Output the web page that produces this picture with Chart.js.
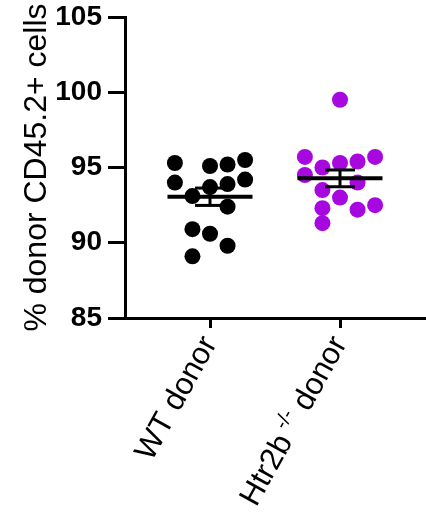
<!DOCTYPE html>
<html>
<head>
    <title>Donor CD45.2+ cells</title>
    <style>
        body { margin: 0; background: #fff; }
        canvas { display: block; }
    </style>
</head>
<body>
    <canvas id="dotChart" width="426" height="519"></canvas>

    <script src="https://cdn.jsdelivr.net/npm/chart.js"></script>
    <script>
        // groups on the x axis
        const categories = ['WT donor', 'Htr2b -/- donor'];
        const groupColors = ['#000000', '#a808e0'];

        // % donor CD45.2+ cells, one value per mouse
        const wtValues = [95.3, 95.1, 95.2, 95.5, 94.0, 93.7, 93.9, 94.2, 93.1, 92.4, 90.9, 90.6, 89.8, 89.1];
        const htrValues = [99.5, 95.7, 95.0, 95.3, 95.4, 95.7, 94.5, 93.5, 94.0, 93.0, 92.3, 92.2, 92.5, 91.3];

        // scatter column of each dot (0 = centre of group)
        const wtCols = [-2, 0, 1, 2, -2, 0, 1, 2, -1, 1, -1, 0, 1, -1];
        const htrCols = [0, -2, -1, 0, 1, 2, -2, -1, 1, 0, -1, 1, 2, -1];

        const yTicks = [85, 90, 95, 100, 105];

        const groups = [
            { values: wtValues, cols: wtCols },
            { values: htrValues, cols: htrCols }
        ];

        const FONT = "'Liberation Sans', Arial, sans-serif";
        const COL_STEP = 0.135;   // width of one scatter column, in x units
        const MEAN_HALF = 0.327;
        const CAP_HALF = 0.115;

        function mean(arr) {
            return arr.reduce((a, b) => a + b, 0) / arr.length;
        }
        function sem(arr) {
            const m = mean(arr);
            const v = arr.reduce((a, b) => a + (b - m) * (b - m), 0) / (arr.length - 1);
            return Math.sqrt(v / arr.length);
        }

        const datasets = [];
        groups.forEach((g, i) => {
            const cx = i + 1;
            const m = mean(g.values);
            const e = sem(g.values);
            const line = (pts, w) => ({
                type: 'line', data: pts, borderColor: '#000', borderWidth: w,
                pointRadius: 0, fill: false, order: 0, clip: false
            });
            datasets.push(line([{ x: cx - MEAN_HALF, y: m }, { x: cx + MEAN_HALF, y: m }], 4));
            datasets.push(line([{ x: cx, y: m - e }, { x: cx, y: m + e }], 3));
            datasets.push(line([{ x: cx - CAP_HALF, y: m + e }, { x: cx + CAP_HALF, y: m + e }], 3));
            datasets.push(line([{ x: cx - CAP_HALF, y: m - e }, { x: cx + CAP_HALF, y: m - e }], 3));
            datasets.push({
                type: 'scatter',
                data: g.values.map((v, k) => ({ x: cx + g.cols[k] * COL_STEP, y: v })),
                backgroundColor: groupColors[i],
                borderColor: groupColors[i],
                borderWidth: 0,
                pointRadius: 8,
                order: 1,
                clip: false
            });
        });

        // x labels drawn rotated, with the -/- part as superscript
        const xLabels = {
            id: 'xLabels',
            afterDraw(chart) {
                const ctx = chart.ctx;
                const xs = chart.scales.x;
                const base = chart.chartArea.bottom;
                const size = 31;
                ctx.save();
                ctx.fillStyle = '#000';
                ctx.textBaseline = 'middle';
                categories.forEach((label, i) => {
                    const parts = label.split(' ').map((tok, k) => {
                        const t = (k > 0 ? ' ' : '') + tok;
                        if (tok === '-/-') {
                            return { t: t, font: Math.round(size * 0.65) + 'px ' + FONT, dy: -size * 0.3 };
                        }
                        return { t: t, font: size + 'px ' + FONT, dy: 0 };
                    });
                    let total = 0;
                    parts.forEach(p => { ctx.font = p.font; p.w = ctx.measureText(p.t).width; total += p.w; });
                    const px = xs.getPixelForValue(i + 1);
                    ctx.save();
                    ctx.translate(px, base + 21);
                    ctx.rotate(-61 * Math.PI / 180);
                    let cur = -total;
                    ctx.textAlign = 'left';
                    parts.forEach(p => {
                        ctx.font = p.font;
                        ctx.fillText(p.t, cur, p.dy);
                        cur += p.w;
                    });
                    ctx.restore();
                });
                ctx.restore();
            }
        };

        const ctx = document.getElementById('dotChart').getContext('2d');
        new Chart(ctx, {
            type: 'scatter',
            data: { datasets: datasets },
            options: {
                responsive: false,
                animation: false,
                layout: { autoPadding: false, padding: { top: 17, right: 0, bottom: 0, left: 0 } },
                plugins: { legend: { display: false }, tooltip: { enabled: false } },
                scales: {
                    x: {
                        type: 'linear',
                        min: 1 - 85 / 130,
                        max: 2 + 86 / 130,
                        afterBuildTicks: s => { s.ticks = categories.map((c, i) => ({ value: i + 1 })); },
                        afterFit: s => {
                            s.height = 201;
                            s.paddingLeft = 0; s.paddingRight = 0;
                        },
                        ticks: { display: false },
                        grid: { drawOnChartArea: false, tickLength: 10, tickWidth: 3, tickColor: '#000' },
                        border: { color: '#000', width: 3 }
                    },
                    y: {
                        min: 85,
                        max: 105,
                        afterBuildTicks: s => { s.ticks = yTicks.map(v => ({ value: v })); },
                        afterFit: s => {
                            s.width = 125;
                            s.paddingTop = 0; s.paddingBottom = 0;
                        },
                        ticks: {
                            color: '#000',
                            padding: 6,
                            font: { family: FONT, size: 28, weight: 'bold' }
                        },
                        grid: { drawOnChartArea: false, tickLength: 17, tickWidth: 3, tickColor: '#000' },
                        border: { color: '#000', width: 3 },
                        title: {
                            display: true,
                            text: '% donor CD45.2+ cells',
                            color: '#000',
                            font: { family: FONT, size: 32 },
                            padding: { top: 18, bottom: 0 }
                        }
                    }
                }
            },
            plugins: [xLabels]
        });
    </script>
</body>
</html>
